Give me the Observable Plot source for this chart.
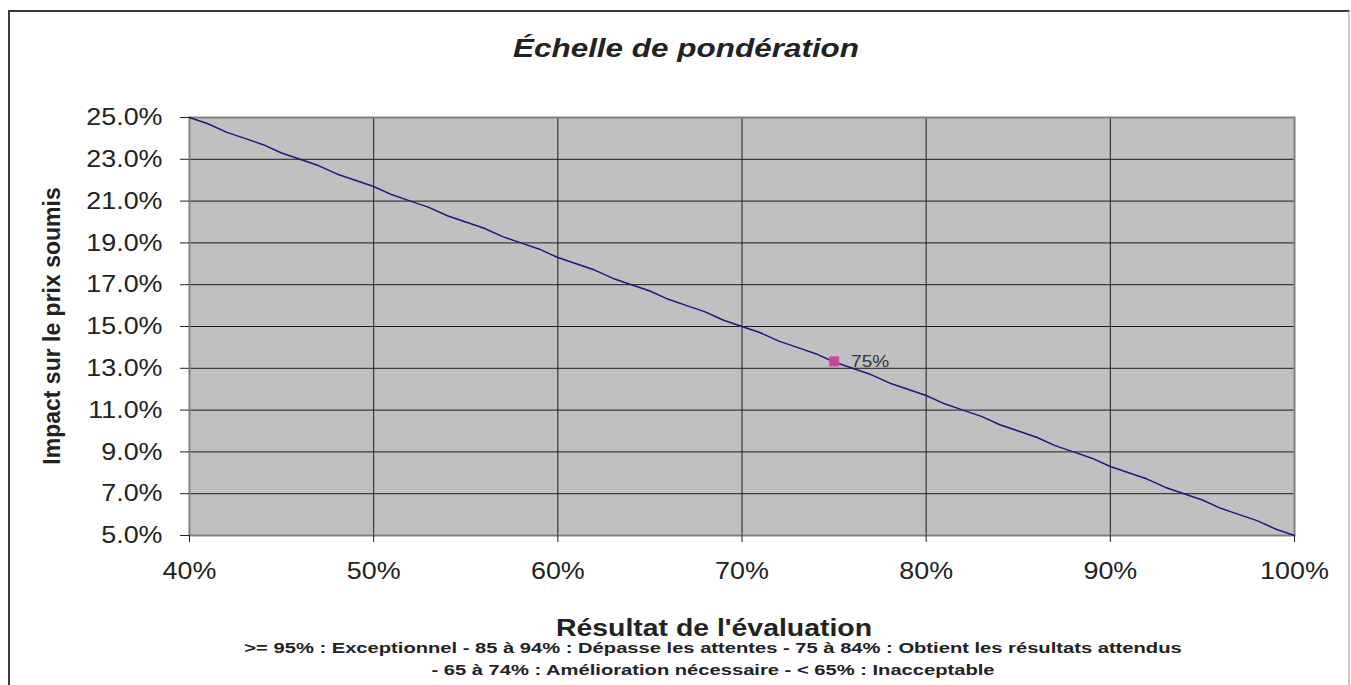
<!DOCTYPE html>
<html>
<head>
<meta charset="utf-8">
<script src="https://cdn.jsdelivr.net/npm/d3@7"></script>
<script src="https://cdn.jsdelivr.net/npm/@observablehq/plot@0.6"></script>
<style>
  html, body { margin: 0; padding: 0; background: #fff; overflow: hidden; }
  #wrap { position: relative; width: 1351px; height: 685px; font-family: "Liberation Sans", Arial, sans-serif; }
  #border { position: absolute; left: 8px; top: 10px; width: 1342px; height: 700px; border: 2px solid #3a3a3a; border-right-color: #c8c8c8; box-sizing: border-box; }
  #chart { position: absolute; left: 0; top: 0; }
  .t { position: absolute; white-space: nowrap; color: #222; text-align: center; line-height: 1; }
  #title { left: 686px; top: 35px; font-size: 26px; font-weight: bold; font-style: italic; transform: translateX(-50%) scaleX(1.21); }
  #xtitle { left: 714px; top: 617px; font-size: 23px; font-weight: bold; transform: translateX(-50%) scaleX(1.235); }
  #cap1 { left: 713px; top: 640px; font-size: 15.5px; font-weight: bold; transform: translateX(-50%) scaleX(1.30); }
  #cap2 { left: 713px; top: 662px; font-size: 15.5px; font-weight: bold; transform: translateX(-50%) scaleX(1.30); }
  #ytitle { position: absolute; left: 52px; top: 326px; transform: translate(-50%, -50%) rotate(-90deg); font-size: 23px; font-weight: bold; white-space: nowrap; color: #222; line-height: 1; }
</style>
</head>
<body>
<div id="wrap">
  <div id="border"></div>
  <div id="chart"></div>
  <div class="t" id="title"></div>
  <div id="ytitle"></div>
  <div class="t" id="xtitle"></div>
  <div class="t" id="cap1"></div>
  <div class="t" id="cap2"></div>
</div>
<script>
// Data
const evaluation = [40,41,42,43,44,45,46,47,48,49,50,51,52,53,54,55,56,57,58,59,60,61,62,63,64,65,66,67,68,69,70,71,72,73,74,75,76,77,78,79,80,81,82,83,84,85,86,87,88,89,90,91,92,93,94,95,96,97,98,99,100];
const impact = [25.0,24.7,24.3,24.0,23.7,23.3,23.0,22.7,22.3,22.0,21.7,21.3,21.0,20.7,20.3,20.0,19.7,19.3,19.0,18.7,18.3,18.0,17.7,17.3,17.0,16.7,16.3,16.0,15.7,15.3,15.0,14.7,14.3,14.0,13.7,13.3,13.0,12.7,12.3,12.0,11.7,11.3,11.0,10.7,10.3,10.0,9.7,9.3,9.0,8.7,8.3,8.0,7.7,7.3,7.0,6.7,6.3,6.0,5.7,5.3,5.0];
const markerX = [75];
const markerY = [13.33];
const markerLabel = ["75%"];
const xTicks = [40,50,60,70,80,90,100];
const yTicks = [5,7,9,11,13,15,17,19,21,23,25];
const titleText = "Échelle de pondération";
const xTitleText = "Résultat de l'évaluation";
const yTitleText = "Impact sur le prix soumis";
const captionLines = [
  ">= 95% : Exceptionnel - 85 à 94% : Dépasse les attentes - 75 à 84% : Obtient les résultats attendus",
  "- 65 à 74% : Amélioration nécessaire - < 65% : Inacceptable"
];

const lineData = evaluation.map((x, i) => ({x, y: impact[i]}));
const markerData = markerX.map((x, i) => ({x, y: markerY[i], label: markerLabel[i]}));

const chart = Plot.plot({
  width: 1351,
  height: 685,
  marginLeft: 189,
  marginRight: 57,
  marginTop: 117,
  marginBottom: 150,
  style: { fontFamily: "'Liberation Sans', Arial, sans-serif", background: "transparent", overflow: "visible" },
  x: { domain: [40, 100], ticks: xTicks, tickFormat: d => d + "%", label: null },
  y: { domain: [5, 25], ticks: yTicks, tickFormat: d => d.toFixed(1) + "%", label: null },
  marks: [
    Plot.frame({ fill: "#c0c0c0" }),
    Plot.gridX(xTicks, { stroke: "#1e1e1e", strokeOpacity: 1, strokeWidth: 1 }),
    Plot.gridY(yTicks, { stroke: "#1e1e1e", strokeOpacity: 1, strokeWidth: 1 }),
    Plot.frame({ stroke: "#808080", strokeWidth: 2 }),
    Plot.axisX({ ticks: xTicks, tickFormat: d => d + "%", tickSize: 7, tickPadding: 19, fontSize: 24, color: "#222", stroke: "#222", label: null }),
    Plot.axisY({ ticks: yTicks, tickFormat: d => d.toFixed(1) + "%", tickSize: 9, tickPadding: 18, fontSize: 24, color: "#222", stroke: "#222", label: null }),
    Plot.line(lineData, { x: "x", y: "y", stroke: "#1a1a7a", strokeWidth: 1.5 }),
    Plot.dot(markerData, { x: "x", y: "y", symbol: "square", r: 5.5, fill: "#c4479e", stroke: "#d070b0", strokeWidth: 0.5 }),
    Plot.text(markerData, { x: "x", y: "y", text: "label", dx: 17, textAnchor: "start", fontSize: 17, fill: "#333" })
  ]
});
document.getElementById("chart").appendChild(chart);
// Widen svg text horizontally to match the reference's stretched glyphs
d3.select(chart).selectAll("text").each(function() {
  const len = this.getComputedTextLength();
  if (len > 0) {
    this.setAttribute("textLength", (len * 1.12).toFixed(1));
    this.setAttribute("lengthAdjust", "spacingAndGlyphs");
  }
});
document.getElementById("title").textContent = titleText;
document.getElementById("xtitle").textContent = xTitleText;
document.getElementById("ytitle").textContent = yTitleText;
document.getElementById("cap1").textContent = captionLines[0];
document.getElementById("cap2").textContent = captionLines[1];
</script>
</body>
</html>
